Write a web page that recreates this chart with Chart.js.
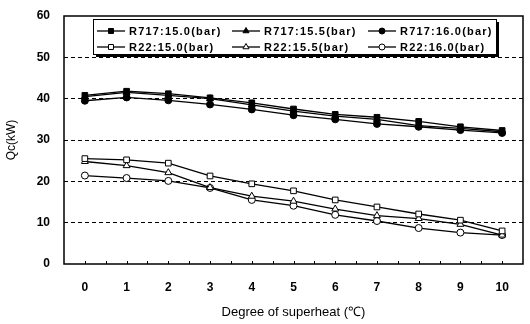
<!DOCTYPE html>
<html>
<head>
<meta charset="utf-8">
<script src="https://cdn.jsdelivr.net/npm/chart.js@4"></script>
<style>
  html, body { margin: 0; padding: 0; background: #fff; }
  #wrap { width: 530px; height: 324px; }
</style>
</head>
<body>
<div id="wrap"><canvas id="chartQc"></canvas></div>
<script>
const superheat = [0, 1, 2, 3, 4, 5, 6, 7, 8, 9, 10];

const r717_150 = [40.8, 41.8, 41.2, 40.2, 39.0, 37.5, 36.2, 35.5, 34.5, 33.2, 32.3];
const r717_155 = [40.5, 41.5, 40.8, 40.0, 38.5, 37.0, 35.8, 35.0, 33.5, 32.8, 32.0];
const r717_160 = [39.5, 40.3, 39.6, 38.6, 37.4, 36.0, 35.0, 33.9, 33.2, 32.4, 31.7];
const r22_150 = [25.5, 25.2, 24.4, 21.3, 19.4, 17.7, 15.5, 13.8, 12.1, 10.6, 8.0];
const r22_155 = [24.8, 23.8, 22.1, 18.5, 16.4, 15.2, 13.3, 11.7, 11.0, 9.6, 7.0];
const r22_160 = [21.4, 20.8, 20.1, 18.4, 15.5, 14.1, 11.9, 10.4, 8.7, 7.6, 7.0];

const yTicks = [0, 10, 20, 30, 40, 50, 60];

function pts(vals) {
  return superheat.map((x, i) => ({ x: x, y: vals[i] }));
}

function series(label, vals, style, filled) {
  return {
    label: label,
    data: pts(vals),
    borderColor: "#000",
    borderWidth: 1.3,
    backgroundColor: filled ? "#000" : "#fff",
    pointBorderColor: "#000",
    pointBackgroundColor: filled ? "#000" : "#fff",
    pointBorderWidth: 1,
    pointStyle: style,
    pointRadius: style === "circle" ? 3.5 : 4,
    tension: 0,
  };
}

const frame = {
  id: "frame",
  afterDatasetsDraw(chart) {
    const ctx = chart.ctx;
    const a = chart.chartArea;
    const xs = chart.scales.x;
    ctx.save();
    ctx.strokeStyle = "#000";
    ctx.lineWidth = 1.5;
    ctx.strokeRect(a.left, a.top, a.right - a.left, a.bottom - a.top);
    // small inward ticks along the bottom
    ctx.lineWidth = 1;
    for (let v = -0.5; v <= 10.5; v += 0.5) {
      const px = Math.round(xs.getPixelForValue(v)) + 0.5;
      if (px <= a.left + 1 || px >= a.right - 1) continue;
      ctx.beginPath();
      ctx.moveTo(px, a.bottom);
      ctx.lineTo(px, a.bottom - 3);
      ctx.stroke();
    }
    ctx.restore();
  },
  afterDraw(chart) {
    const ctx = chart.ctx;
    const box = { x: 93, y: 19, w: 403, h: 35 };
    ctx.save();
    ctx.fillStyle = "#000";
    ctx.fillRect(box.x + 3, box.y + 3, box.w, box.h);
    ctx.fillStyle = "#fff";
    ctx.fillRect(box.x, box.y, box.w, box.h);
    ctx.strokeStyle = "#000";
    ctx.lineWidth = 1;
    ctx.strokeRect(box.x + 0.5, box.y + 0.5, box.w, box.h);

    const cols = [97, 232, 368];
    const rows = [31, 47];
    ctx.font = "bold 11px 'Liberation Sans', Arial, sans-serif";
    ctx.textBaseline = "middle";
    ctx.letterSpacing = "1.2px";
    chart.data.datasets.forEach((ds, i) => {
      const cx = cols[i % 3];
      const cy = rows[Math.floor(i / 3)];
      ctx.strokeStyle = "#000";
      ctx.lineWidth = 1.3;
      ctx.beginPath();
      ctx.moveTo(cx, cy);
      ctx.lineTo(cx + 28, cy);
      ctx.stroke();
      ctx.fillStyle = ds.pointBackgroundColor;
      ctx.lineWidth = 1;
      Chart.helpers.drawPoint(ctx, {
        pointStyle: ds.pointStyle,
        radius: ds.pointRadius - 0.5,
        rotation: 0,
        borderWidth: 1,
      }, cx + 14, cy);
      ctx.fillStyle = "#000";
      ctx.fillText(ds.label, cx + 32, cy + 1);
    });
    ctx.restore();
  },
};

new Chart(document.getElementById("chartQc").getContext("2d"), {
  type: "line",
  data: {
    datasets: [
      series("R717:15.0(bar)", r717_150, "rect", true),
      series("R717:15.5(bar)", r717_155, "triangle", true),
      series("R717:16.0(bar)", r717_160, "circle", true),
      series("R22:15.0(bar)", r22_150, "rect", false),
      series("R22:15.5(bar)", r22_155, "triangle", false),
      series("R22:16.0(bar)", r22_160, "circle", false),
    ],
  },
  plugins: [frame],
  options: {
    responsive: true,
    maintainAspectRatio: false,
    animation: false,
    layout: { padding: { top: 16, right: 7, left: 0, bottom: 0 } },
    plugins: {
      legend: { display: false },
      tooltip: { enabled: false },
    },
    scales: {
      x: {
        type: "linear",
        min: -0.5,
        max: 10.5,
        afterBuildTicks(scale) {
          scale.ticks = superheat.map((v) => ({ value: v }));
        },
        afterFit(scale) { scale.height = 60; },
        grid: { display: false },
        border: { display: false },
        ticks: {
          color: "#000",
          padding: 8,
          font: { family: "'Liberation Sans', Arial", size: 12, weight: "bold" },
        },
        title: {
          display: true,
          text: "Degree of superheat (℃)",
          color: "#000",
          padding: { top: 21 },
          font: { family: "'Liberation Sans', Arial", size: 13 },
        },
      },
      y: {
        min: 0,
        max: 60,
        afterBuildTicks(scale) {
          scale.ticks = yTicks.map((v) => ({ value: v }));
        },
        afterFit(scale) {
          scale.width = 64;
          scale.paddingTop = 0;
          scale.paddingBottom = 0;
        },
        border: { display: false, dash: [4, 3] },
        grid: {
          drawTicks: false,
          color: (c) => (c.tick.value === 0 || c.tick.value === 60 ? "rgba(0,0,0,0)" : "#000"),
          lineWidth: 1,
        },
        ticks: {
          color: "#000",
          padding: 14,
          font: { family: "'Liberation Sans', Arial", size: 12, weight: "bold" },
        },
        title: {
          display: true,
          text: "Qc(kW)",
          color: "#000",
          padding: { bottom: 6 },
          font: { family: "'Liberation Sans', Arial", size: 12 },
        },
      },
    },
  },
});
</script>
</body>
</html>
